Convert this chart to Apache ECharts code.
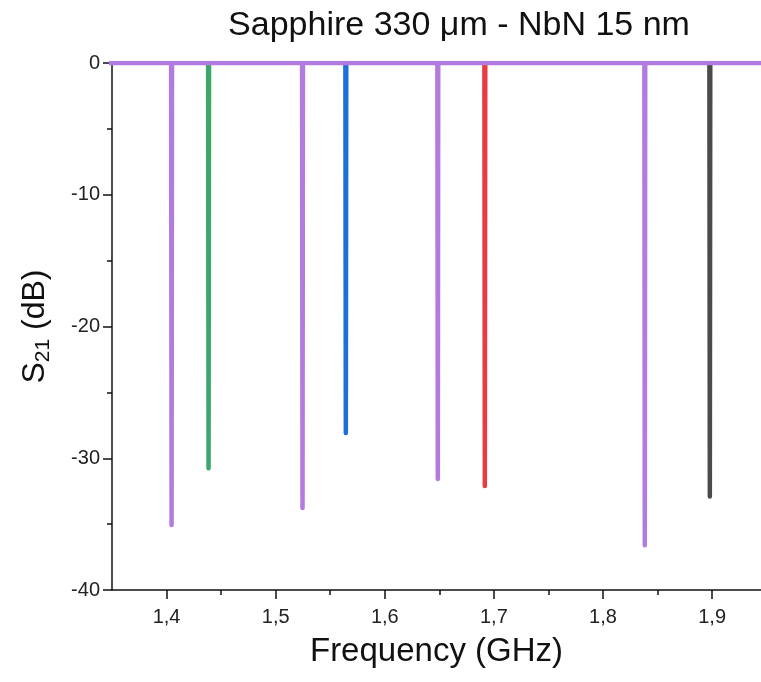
<!DOCTYPE html>
<html>
<head>
<meta charset="utf-8">
<script src="https://cdn.jsdelivr.net/npm/echarts@6/dist/echarts.min.js"></script>
<style>
html,body{margin:0;padding:0;background:#fff;}
#chart{width:761px;height:682px;}
</style>
</head>
<body>
<div id="chart"></div>
<script>
// Resonance dips (GHz, dB)
const purpleFreq = [1.4046, 1.5246, 1.6486, 1.8383];
const purpleDepth = [-35.07, -33.78, -31.57, -36.6];
const greenFreq = [1.4385];
const greenDepth = [-30.76];
const blueFreq = [1.5643];
const blueDepth = [-28.08];
const redFreq = [1.6917];
const redDepth = [-32.1];
const blackFreq = [1.8979];
const blackDepth = [-32.9];
const baseline = 0;
const xRange = [1.35, 1.9448];
const xMajorTicks = [1.4, 1.5, 1.6, 1.7, 1.8, 1.9];
const xMinorTicks = [1.45, 1.55, 1.65, 1.75, 1.85];

const W = 0.0004; // half-width of a dip in GHz
function dips(freqs, depths, withBaseline) {
  const pts = [];
  if (withBaseline) pts.push([xRange[0] - 0.01, baseline]);
  freqs.forEach((f, i) => {
    pts.push([f - W, baseline]);
    pts.push([f, depths[i]]);
    pts.push([f + W, baseline]);
  });
  if (withBaseline) pts.push([xRange[1] + 0.02, baseline]);
  return pts;
}

const chart = echarts.init(document.getElementById('chart'), null, {renderer: 'canvas'});
const FONT = 'Liberation Sans, Arial, sans-serif';
const GRID_TOP = 63, GRID_BOTTOM = 92, H = 682;
const lineBase = {type: 'line', showSymbol: false, symbol: 'none', animation: false, clip: true,
  xAxisIndex: 0, yAxisIndex: 0};

function mk(name, data, color, z) {
  return Object.assign({}, lineBase, {
    name: name, data: data, z: z,
    lineStyle: {color: color, width: 4.5, cap: 'round', join: 'round'}
  });
}

chart.setOption({
  backgroundColor: '#ffffff',
  title: {
    text: 'Sapphire 330 \u03bcm - NbN 15 nm',
    left: 459, top: 9, padding: 0, textAlign: 'center',
    textStyle: {fontFamily: FONT, fontSize: 34, fontWeight: 'normal', color: '#111'}
  },
  grid: {left: 112, top: GRID_TOP, right: 0, bottom: GRID_BOTTOM, containLabel: false},
  xAxis: [{
    type: 'value', min: xRange[0], max: xRange[1], position: 'bottom',
    name: 'Frequency (GHz)', nameLocation: 'middle', nameGap: 45,
    nameTextStyle: {fontFamily: FONT, fontSize: 33, color: '#111'},
    axisLine: {show: true, onZero: false, lineStyle: {color: '#111', width: 1.5}},
    axisTick: {show: true, inside: false, length: 9, customValues: xMajorTicks, lineStyle: {color: '#111', width: 1.5}},
    axisLabel: {show: true, margin: 17, customValues: xMajorTicks, fontFamily: FONT, fontSize: 20, color: '#222',
      formatter: v => v.toFixed(1).replace('.', ',')},
    splitLine: {show: false}
  }, {
    // minor ticks: a top-positioned axis shifted down onto the bottom axis line
    type: 'value', min: xRange[0], max: xRange[1], position: 'top', gridIndex: 0,
    offset: -(H - GRID_BOTTOM - GRID_TOP),
    axisLine: {show: false},
    axisTick: {show: true, inside: true, length: 5, customValues: xMinorTicks, lineStyle: {color: '#111', width: 1.5}},
    axisLabel: {show: false},
    splitLine: {show: false}
  }],
  yAxis: {
    type: 'value', min: -40, max: 0, interval: 10,
    name: '{m|S}{s|21}{m| (dB)}', nameLocation: 'middle', nameGap: 58, nameRotate: 90,
    nameTextStyle: {
      fontFamily: FONT, color: '#111',
      rich: {
        m: {fontFamily: FONT, fontSize: 32, color: '#111', lineHeight: 37, verticalAlign: 'middle'},
        s: {fontFamily: FONT, fontSize: 21, color: '#111', lineHeight: 37, verticalAlign: 'bottom'}
      }
    },
    axisLine: {show: true, onZero: false, lineStyle: {color: '#111', width: 1.5}},
    axisTick: {show: true, inside: false, length: 9, lineStyle: {color: '#111', width: 1.5}},
    minorTick: {show: true, splitNumber: 2, length: 5, lineStyle: {color: '#111', width: 1.5}},
    axisLabel: {margin: 12, fontFamily: FONT, fontSize: 20, color: '#222'},
    splitLine: {show: false}
  },
  series: [
    mk('green', dips(greenFreq, greenDepth, false), '#3aa86b', 2),
    mk('blue', dips(blueFreq, blueDepth, false), '#1f6fd8', 2),
    mk('red', dips(redFreq, redDepth, false), '#e63c42', 2),
    mk('black', dips(blackFreq, blackDepth, false), '#4b4b4b', 2),
    mk('purple', dips(purpleFreq, purpleDepth, true), '#b27be0', 3)
  ]
});
</script>
</body>
</html>
